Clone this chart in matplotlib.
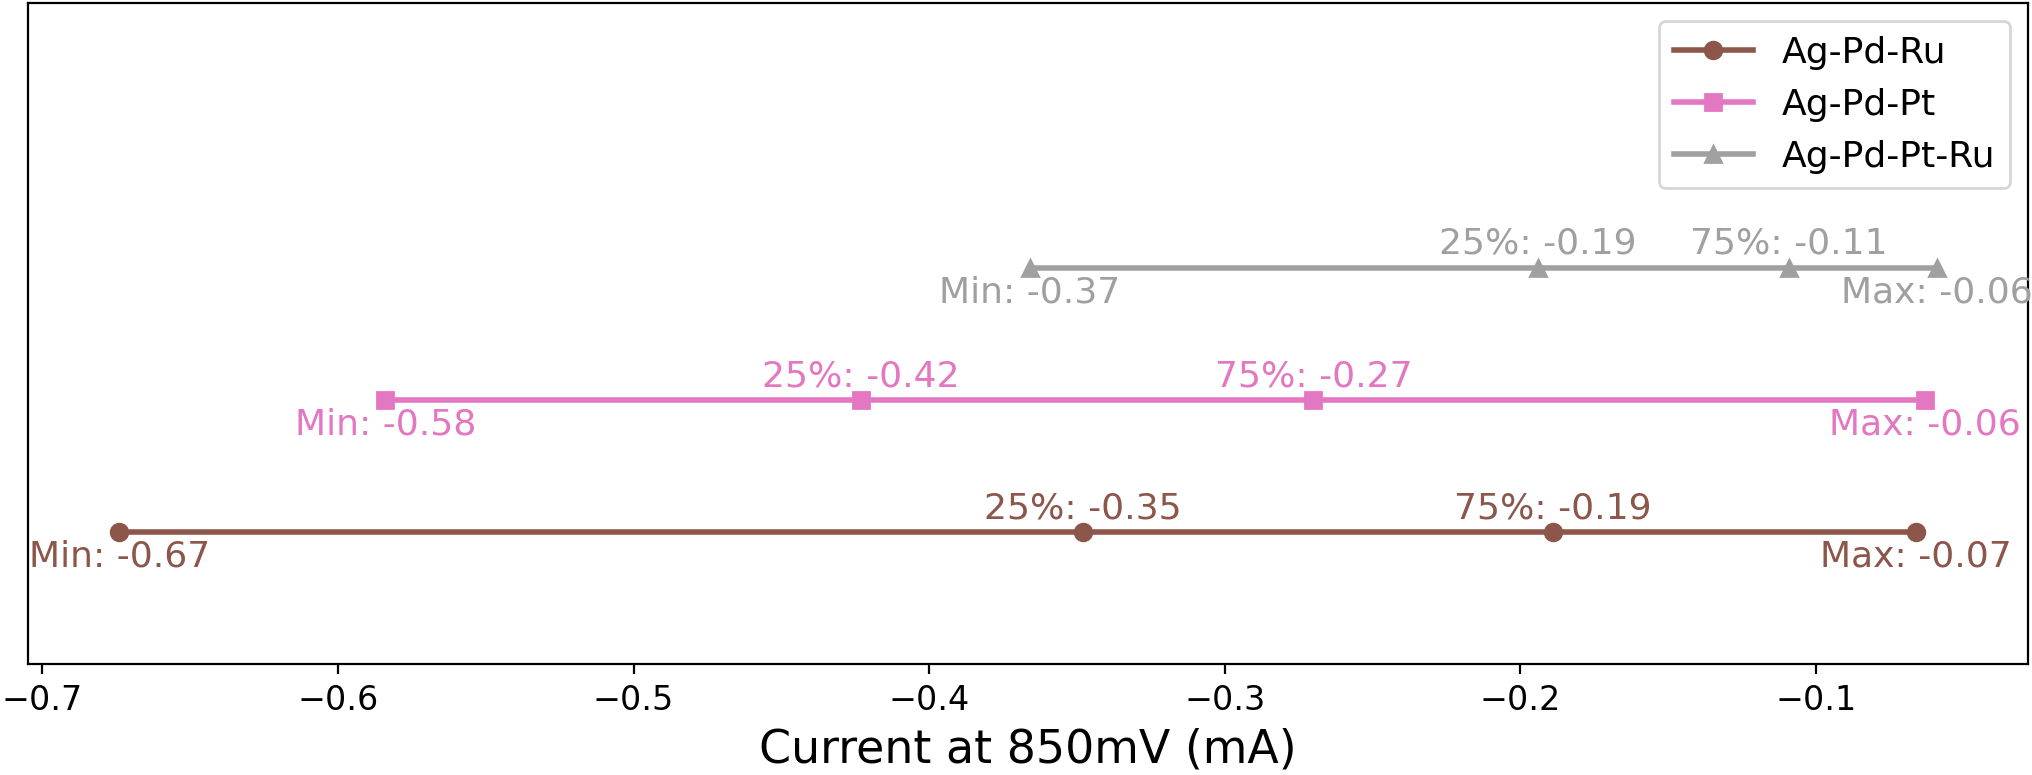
import numpy as np
import matplotlib.pyplot as plt

# current at 850 mV (mA): min, 25%, 75%, max for each alloy
alloys = ['Ag-Pd-Ru', 'Ag-Pd-Pt', 'Ag-Pd-Pt-Ru']
mins = [-0.674, -0.584, -0.366]
q25 = [-0.348, -0.423, -0.194]
q75 = [-0.189, -0.270, -0.109]
maxs = [-0.066, -0.063, -0.059]

colors = ['#8c564b', '#e377c2', '#a0a0a0']
markers = ['o', 's', '^']

fig, ax = plt.subplots(figsize=(10.16, 3.875), dpi=200)
fig.subplots_adjust(left=0.014, right=0.998, bottom=0.143, top=0.996)

for i, name in enumerate(alloys):
    xs = [mins[i], q25[i], q75[i], maxs[i]]
    ax.plot(xs, [i]*4, color=colors[i], marker=markers[i], lw=2, ms=6, label=name)
    ax.text(mins[i], i - 0.06, f'Min: {mins[i]:.2f}', color=colors[i], ha='center', va='top', fontsize=13)
    ax.text(maxs[i], i - 0.06, f'Max: {maxs[i]:.2f}', color=colors[i], ha='center', va='top', fontsize=13)
    ax.text(q25[i], i + 0.05, f'25%: {q25[i]:.2f}', color=colors[i], ha='center', va='bottom', fontsize=13)
    ax.text(q75[i], i + 0.05, f'75%: {q75[i]:.2f}', color=colors[i], ha='center', va='bottom', fontsize=13)

ax.set_ylim(-1, 4)
ax.set_yticks([])
ax.tick_params(axis='x', labelsize=12)
ax.set_xlabel('Current at 850mV (mA)', fontsize=16.5)
ax.legend(loc='upper right', fontsize=13, handlelength=2.2)

plt.savefig('out.png', dpi=200)
